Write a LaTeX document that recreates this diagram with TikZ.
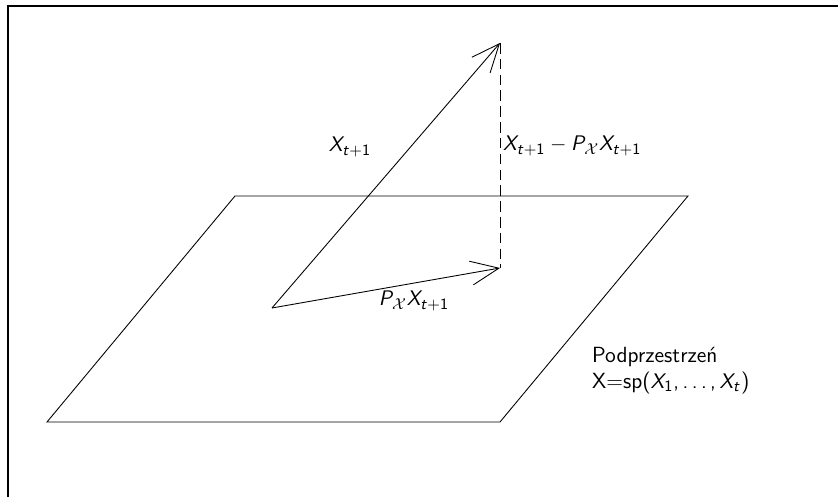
\documentclass[tikz,border=0pt]{standalone}
\usepackage{tikz}
\usetikzlibrary{arrows.meta,positioning}
% sans serif math letters and digits
\DeclareSymbolFont{letters}{OT1}{cmss}{m}{sl}
\DeclareSymbolFont{operators}{OT1}{cmss}{m}{n}
\mathcode`,="602C
\mathchardef\ldotp="602E

\begin{document}
\begin{tikzpicture}[
  vec/.style={-{Straight Barb[length=5.6mm,width=4.8mm]},line width=0.5pt},
  plane/.style={line width=0.5pt},
  perp/.style={dashed,dash pattern=on 6pt off 3pt,line width=0.5pt},
  lbl/.style={font=\sffamily\fontsize{12.5}{14.5}\selectfont,inner sep=1pt}
]
\useasboundingbox (0,0) rectangle (16.76,9.94);
\draw[line width=0.6pt] (0.16,-0.5) rectangle (17.3,9.82);
% plane
\coordinate (bl) at (0.94,1.50);
\coordinate (br) at (10.00,1.50);
\coordinate (tr) at (13.76,6.02);
\coordinate (tl) at (4.70,6.02);
\draw[plane] (bl) -- (br) -- (tr) -- (tl) -- cycle;
% vectors
\coordinate (origin) at (5.44,3.78);
\coordinate (tip) at (10.00,9.08);
\coordinate (proj) at (10.00,4.58);
\draw[vec] (origin) -- (tip);
\draw[vec] (origin) -- (proj);
\draw[perp] (tip) -- (proj);
% labels
\node[lbl] (xt) at (7.00,7.00) {$X_{t+1}$};
\node[lbl,anchor=west] (resid) at (10.02,7.02) {$X_{t+1}-P_{\mathcal{X}}X_{t+1}$};
\node[lbl] (px) at (8.28,3.92) {$P_{\mathcal{X}}X_{t+1}$};
\node[lbl,anchor=west,align=left] (sub) at (11.80,2.53)
  {Podprzestrzeń\\X=sp($X_1,\ldots,X_t$)};
\end{tikzpicture}
\end{document}
